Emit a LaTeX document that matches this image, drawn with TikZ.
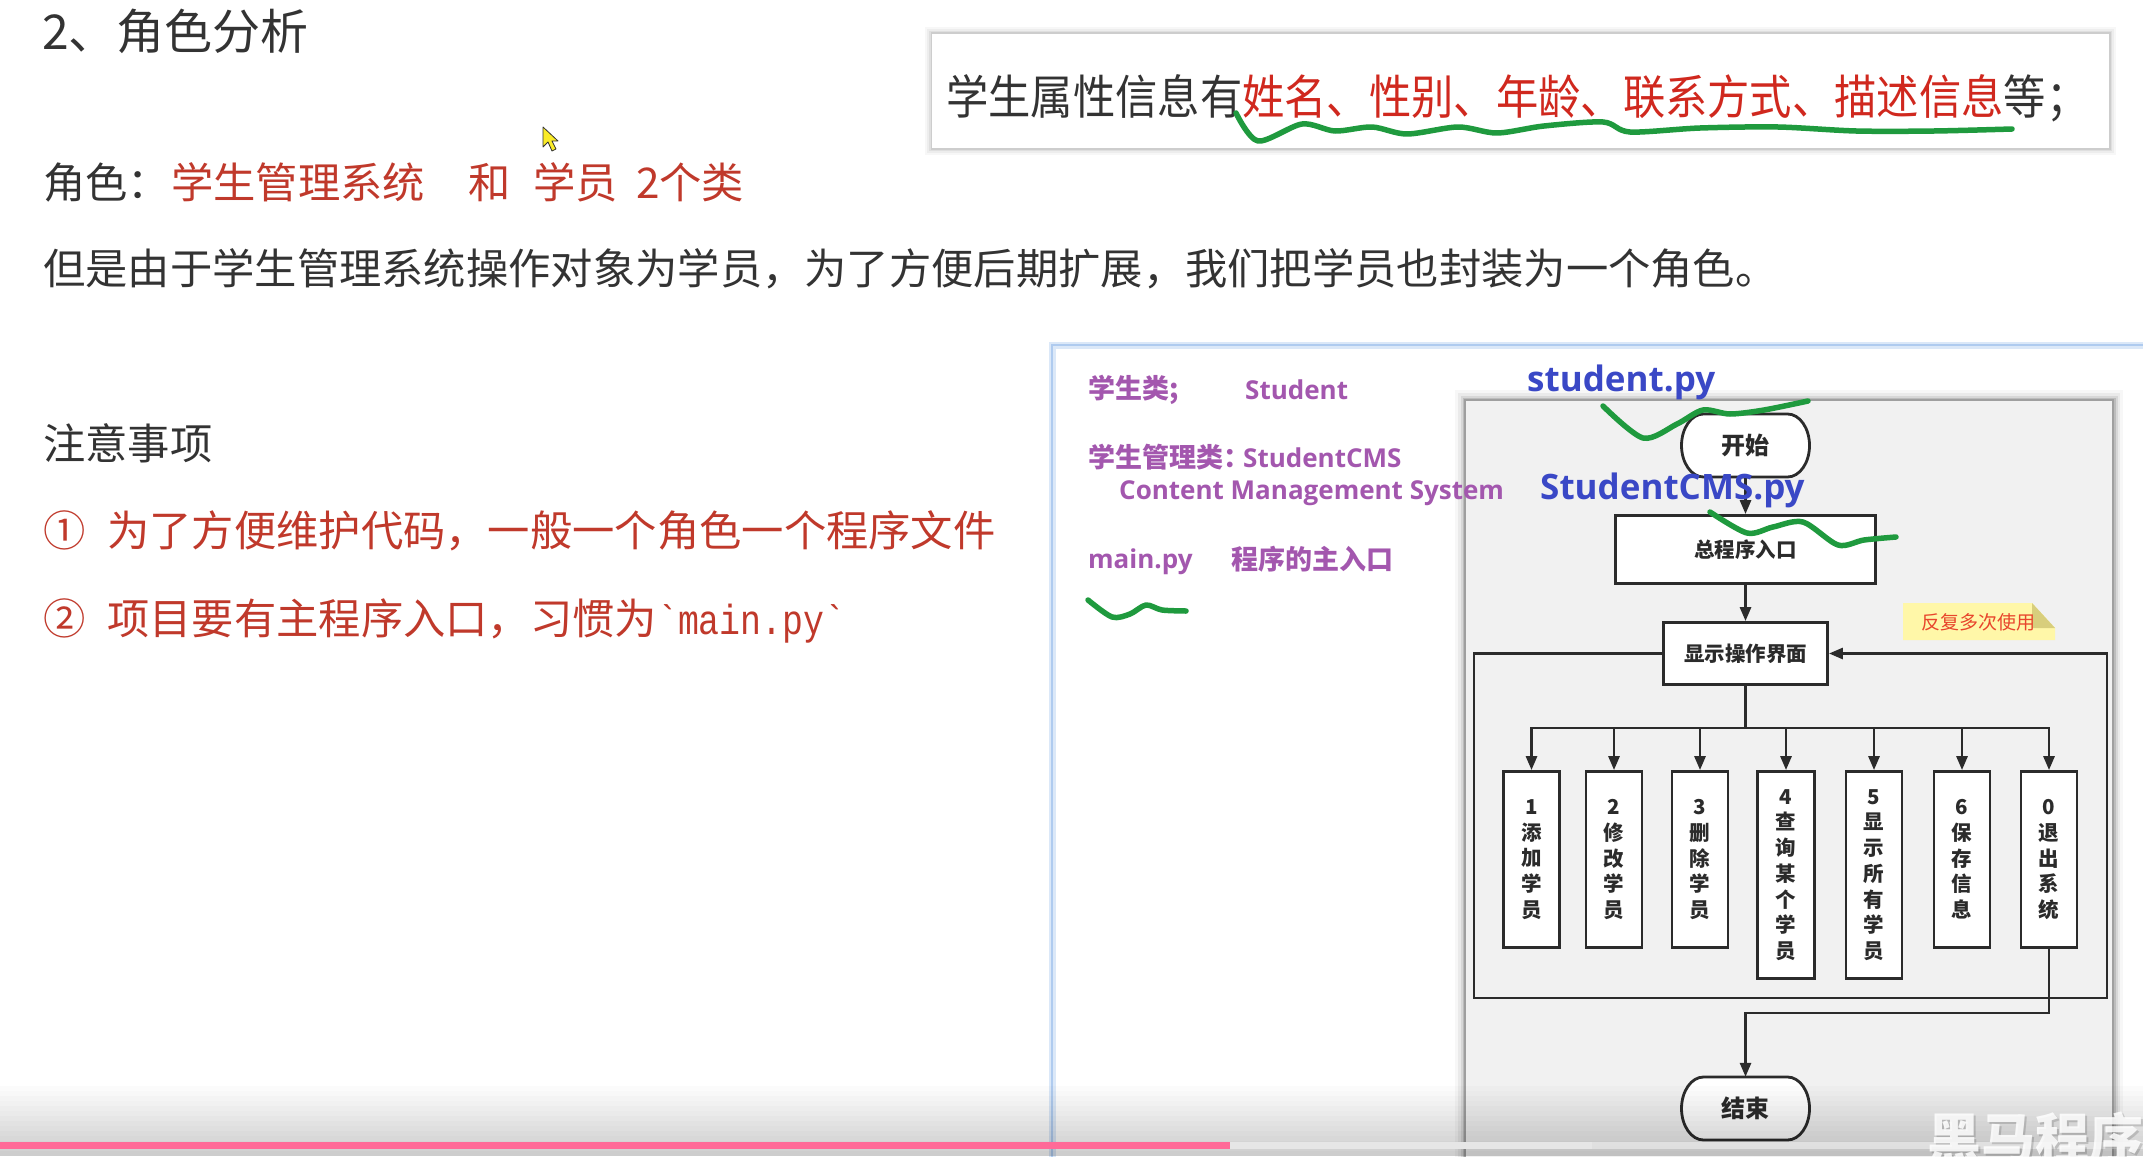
\documentclass[tikz,border=0pt]{standalone}
\usepackage{fontspec}
\setmainfont{Noto Sans CJK SC}
\newfontfamily\cjk{Noto Sans CJK SC}
\newfontfamily\cjkn{Noto Sans CJK SC}[FakeStretch=0.9]
\newfontfamily\lat{Open Sans}
\newfontfamily\mono{Liberation Mono}[FakeStretch=0.83]
\usetikzlibrary{arrows.meta,calc}
\definecolor{txt}{HTML}{333333}
\definecolor{red1}{HTML}{C0392B}
\definecolor{red2}{HTML}{D0281E}
\definecolor{grn}{HTML}{1F9A3E}
\definecolor{pur}{HTML}{A357AE}
\definecolor{blu}{HTML}{3A48C6}
\definecolor{fl}{HTML}{2B2B2B}
\definecolor{panelgray}{HTML}{F1F1F1}
\definecolor{pblue}{HTML}{AFCBEF}
\definecolor{note}{HTML}{FFF7A8}
\definecolor{notefold}{HTML}{D8CE7C}
\definecolor{notetxt}{HTML}{E8452C}
\definecolor{pink}{HTML}{FF6A98}
\definecolor{buffer}{HTML}{E6E6E6}
\definecolor{cursory}{HTML}{FAEB28}
\newcommand\fs[1]{\fontsize{#1}{#1}\selectfont}
\newcommand\stadshape[2]{%
  \draw[conn, fill=white] (#1-42,#2-31.5) -- (#1+42,#2-31.5)
    arc[start angle=-90,end angle=90,x radius=22,y radius=31.5]
    -- (#1-42,#2+31.5)
    arc[start angle=90,end angle=270,x radius=22,y radius=31.5] -- cycle;}
\begin{document}
\begin{tikzpicture}[x=1pt,y=-1pt,
  lt/.style={inner sep=0pt, anchor=base west},
  big/.style={lt, font=\cjk\fs{42.3}, text=txt},
  purc/.style={lt, font=\cjk\bfseries\fs{27}, text=pur},
  purl/.style={lt, font=\lat\bfseries\fs{26}, text=pur},
  bluel/.style={lt, font=\lat\bfseries\fs{35}, text=blu},
  conn/.style={draw=fl, line width=2.8pt},
  arr/.style={conn, -{Triangle[length=14pt,width=11pt]}},
  fbox/.style={draw=fl, line width=2.8pt, fill=white, inner sep=0pt,
    font=\cjk\bfseries\fontsize{20.5}{25.7}\selectfont, text=fl, align=center},
  stadtext/.style={inner sep=0pt, minimum width=128, minimum height=63,
    font=\cjk\bfseries\fs{24}, text=fl},
  pen/.style={draw=grn, line width=5.5pt, line cap=round, line join=round}
]
\useasboundingbox (0,0) rectangle (2143,1156);
\fill[white] (0,0) rectangle (2143,1156);

% ---------------- left text ----------------
\node[lt, font=\cjk\fs{48}, text=txt] (title) at (42,49) {2、角色分析};
\node[big] (role) at (43,198) {角色：};
\node[big, text=red1] (r1) at (171,198) {学生管理系统};
\node[big, text=red1] (r2) at (468,198) {和};
\node[big, text=red1] (r3) at (533,198) {学员};
\node[big, text=red1] (r4) at (636,198) {2个类};
\node[big] (but) at (43,284) {但是由于学生管理系统操作对象为学员，为了方便后期扩展，我们把学员也封装为一个角色。};
\node[big] (notice) at (43,459) {注意事项};
\node[big, text=red1] (c1) at (43,546) {①};
\node[big, text=red1] (n1) at (107,546) {为了方便维护代码，一般一个角色一个程序文件};
\node[big, text=red1] (c2) at (43,634) {②};
\node[big, text=red1] (n2) at (107,634) {项目要有主程序入口，习惯为{\mono\fontsize{42}{42}\selectfont `main.py`}};

% cursor
\draw[fill=cursory, draw=black!80, line width=0.8pt, line join=round]
  (543,127) -- (543,147) -- (548,142) -- (552,151) -- (556,149) -- (552,141) -- (558,141) -- cycle;

% ---------------- top right box ----------------
\foreach \d/\o in {7/0.03,5/0.04,3/0.06,1.5/0.08}
  \fill[black, opacity=\o] (932-\d,34-\d) rectangle (2109+\d,148+\d);
\fill[white] (932,34) rectangle (2109,148);
\node[lt, font=\cjkn\fs{47}, text=txt] (attr) at (946,114)
  {学生属性信息有{\color{red2}姓名、性别、年龄、联系方式、描述信息}等；};

% ---------------- right panel ----------------
\fill[white] (1052,344) rectangle (2143,1170);
\draw[pblue!45, line width=7pt] (1052,1170) -- (1052,345) -- (2150,345);
\draw[pblue, line width=2.5pt] (1052,1170) -- (1052,345) -- (2150,345);

% gray flow panel
\foreach \d/\o in {10/0.03,7/0.05,4.5/0.08,2.5/0.12}
  \fill[black, opacity=\o] (1465-\d,400-\d) rectangle (2113+\d,1175);
\draw[fill=panelgray, draw=gray!75, line width=1.5pt] (1465,400) rectangle (2113,1175);

% purple notes
\node[purc] (cls1) at (1088,398) {学生类;};
\node[purl] (cls1n) at (1245,399) {Student};
\node[purc] (cls2) at (1088,467) {学生管理类：};
\node[purl] (cls2n) at (1243,467) {StudentCMS};
\node[purl] (cms) at (1119,499) {Content Management System};
\node[purl] (mainpy) at (1088,568) {main.py};
\node[purc] (mainentry) at (1231,569) {程序的主入口};

% flow chart
\stadshape{1745.5}{445.5}
\node[stadtext] (start) at (1745.5,445.5) {开始};
\node[fbox, minimum width=260, minimum height=68] (entry) at (1745.5,549.5) {总程序入口};
\node[fbox, minimum width=164, minimum height=62] (menu) at (1745.5,653.5) {显示操作界面};

\node[fbox, minimum width=56, minimum height=176] (b1) at (1531.5,859.5) {1\\添\\加\\学\\员};
\node[fbox, minimum width=56, minimum height=176] (b2) at (1614,859.5) {2\\修\\改\\学\\员};
\node[fbox, minimum width=56, minimum height=176] (b3) at (1700,859.5) {3\\删\\除\\学\\员};
\node[fbox, minimum width=57, minimum height=207] (b4) at (1786,875) {4\\查\\询\\某\\个\\学\\员};
\node[fbox, minimum width=56, minimum height=207] (b5) at (1874,875) {5\\显\\示\\所\\有\\学\\员};
\node[fbox, minimum width=56, minimum height=176] (b6) at (1962,859.5) {6\\保\\存\\信\\息};
\node[fbox, minimum width=56, minimum height=176] (b0) at (2049,859.5) {0\\退\\出\\系\\统};

\stadshape{1745.5}{1108.5}
\node[stadtext] (end) at (1745.5,1108.5) {结束};

\draw[arr] (start.south) -- (entry.north);
\draw[arr] (entry.south) -- (menu.north);
\coordinate (bus) at (1745.5,728);
\draw[conn] (menu.south) -- (bus);
\foreach \b in {b1,b2,b3,b4,b5,b6,b0}
  \draw[arr] (bus) -| (\b.north);

\coordinate (lt) at (1474,653.5);
\coordinate (lb) at (1474,998);
\coordinate (rb) at (2107,998);
\coordinate (rt) at (2107,653.5);
\draw[arr] (menu.west) -- (lt) -- (lb) -- (rb) -- (rt) -- (menu.east);

\coordinate (ex) at (2049,1013);
\draw[arr] (b0.south) -- (ex) -| (end.north);

% sticky note
\fill[note] (1903,603) -- (2032,603) -- (2055,628) -- (2055,640) -- (1903,640) -- cycle;
\fill[notefold] (2032,603) -- (2055,628) -- (2032,628) -- cycle;
\node[inner sep=0pt, font=\cjk\fs{19}, text=notetxt, anchor=west] (reuse) at (1921,622) {反复多次使用};

% blue file names
\node[bluel] (stpy) at (1527,391) {student.py};
\node[bluel] (cmspy) at (1540,499) {StudentCMS.py};

% ---------------- green pen strokes ----------------
\draw[pen] plot[smooth, tension=0.5] coordinates {(1236,113) (1258,141) (1302,124) (1335,131) (1372,127) (1407,134) (1458,127) (1497,133) (1544,126) (1603,122) (1630,132) (1700,128) (1778,127) (1856,131) (1934,131) (2012,129)};
\draw[pen] plot[smooth, tension=0.5] coordinates {(1603,406) (1643,438) (1677,424) (1703,410) (1730,414) (1764,410) (1808,401)};
\draw[pen] plot[smooth, tension=0.5] coordinates {(1710,512) (1747,533) (1773,527) (1803,522) (1838,545) (1864,540) (1896,537)};
\draw[pen] plot[smooth, tension=0.5] coordinates {(1088,600) (1112,617) (1130,614) (1146,605) (1162,610) (1186,611)};

% ---------------- video overlay ----------------
\foreach \i [evaluate=\i as \op using 0.014*(\i+1), evaluate=\i as \yy using 1086+5*\i] in {0,...,13}
  \fill[black, opacity=\op] (0,\yy) rectangle (2143,\yy+5);
\fill[white, opacity=0.45] (0,1142) rectangle (2143,1149);
\fill[buffer] (1230,1142) rectangle (1592,1149);
\fill[pink] (0,1142) rectangle (1230,1149);
\begin{scope}
\clip (0,0) rectangle (2143,1156);
\node[lt, font=\cjk\bfseries\fs{54}, text=black, text opacity=0.15] (wm0) at (1929,1160) {黑马程序员};
\node[lt, font=\cjk\bfseries\fs{54}, text=white, text opacity=0.85] (wm) at (1927,1158) {黑马程序员};
\end{scope}
\end{tikzpicture}
\end{document}
